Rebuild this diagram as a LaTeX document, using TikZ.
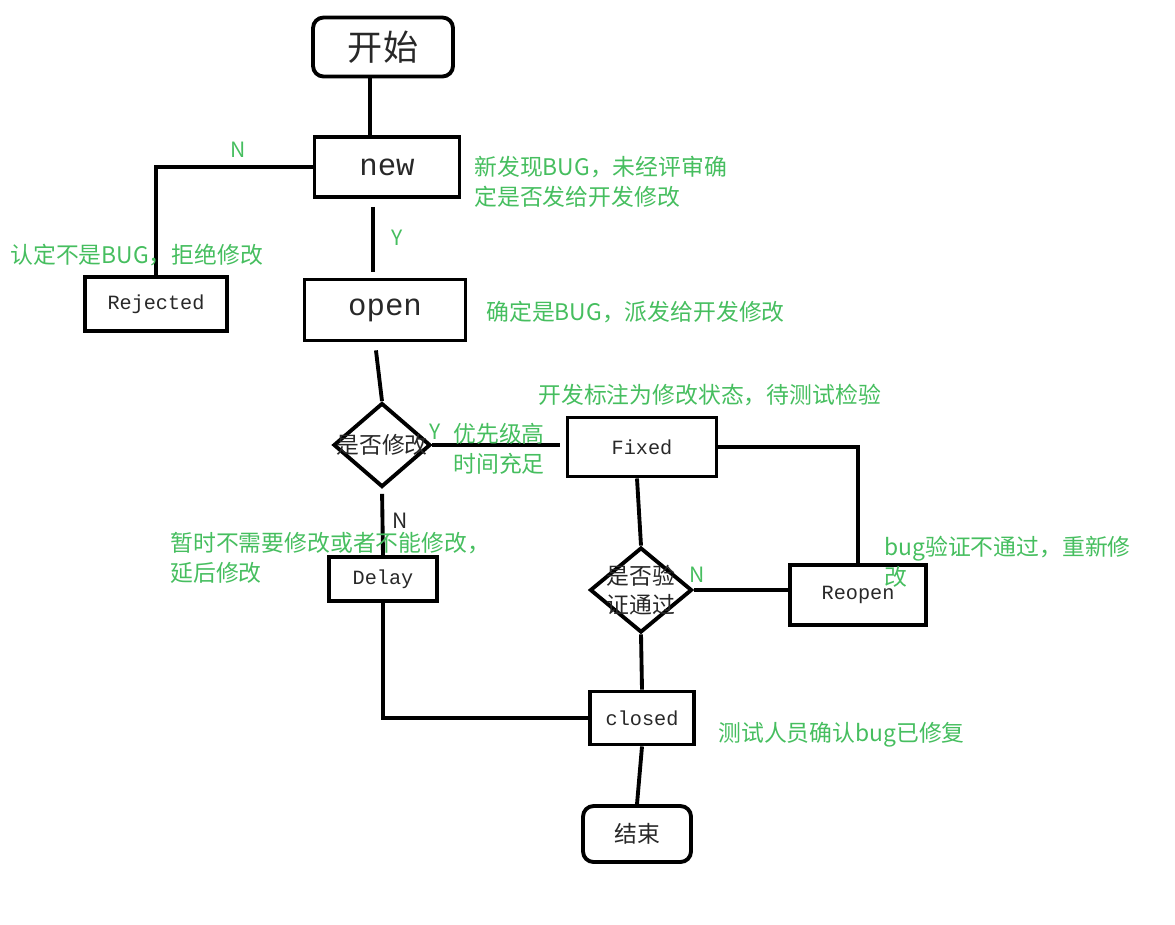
\documentclass[tikz,border=0pt]{standalone}
\usepackage{fontspec}
\setmainfont{Noto Sans CJK SC}
\newfontfamily\boxfont{Liberation Mono}
\usepackage{tikz}
\usetikzlibrary{shapes.geometric, positioning}
\definecolor{mygreen}{RGB}{70,190,95}
\definecolor{mytext}{RGB}{40,40,40}
\tikzset{
  box/.style={rectangle, draw=black, line width=2.2pt, text=mytext,
    inner sep=0pt, font=\boxfont\fontsize{11.5}{13}\selectfont},
  bigbox/.style={box, font=\boxfont\fontsize{17.5}{20}\selectfont},
  termbox/.style={box, rounded corners=6pt, font=\fontsize{13}{16}\selectfont},
  decision/.style={diamond, draw=black, line width=2.2pt, inner sep=0pt},
  qtext/.style={text=mytext, align=center, inner sep=0pt,
    font=\fontsize{13}{16.5}\selectfont},
  note/.style={text=mygreen, align=left, anchor=west, inner sep=0pt,
    font=\fontsize{13}{17}\selectfont},
  yn/.style={text=mygreen, inner sep=0pt, font=\fontsize{12}{14}\selectfont},
  line/.style={line width=2.2pt, color=black}
}

\begin{document}
\begin{tikzpicture}[x=0.02cm, y=-0.02cm]
  \useasboundingbox (0,0) rectangle (1175,924);

  % Start and end
  \node[termbox, minimum width=2.8cm, minimum height=1.18cm,
    font=\fontsize{20}{24}\selectfont] (start) at (383,47) {开始};
  \node[termbox, minimum width=2.16cm, minimum height=1.12cm] (end) at (637,834) {结束};

  % States
  \node[bigbox, minimum width=2.9cm, minimum height=1.2cm] (new) at (387,167) {new};
  \node[box, minimum width=2.84cm, minimum height=1.08cm] (rej) at (156,304) {Rejected};
  \node[bigbox, minimum width=3.22cm, minimum height=1.22cm] (open) at (385,310) {open};
  \node[box, minimum width=2.98cm, minimum height=1.18cm] (fixed) at (642,447) {Fixed};
  \node[box, minimum width=2.16cm, minimum height=0.88cm] (delay) at (383,579) {Delay};
  \node[box, minimum width=2.72cm, minimum height=1.2cm] (reopen) at (858,595) {Reopen};
  \node[box, minimum width=2.08cm, minimum height=1.06cm] (closed) at (642,718) {closed};

  % Decisions
  \node[decision, minimum width=1.94cm, minimum height=1.68cm] (q1) at (382,445) {};
  \node[qtext] (q1t) at (q1) {是否修改};
  \node[decision, minimum width=2.04cm, minimum height=1.7cm] (q2) at (641,590) {};
  \node[qtext] (q2t) at (q2) {是否验\\证通过};

  % Connectors
  \draw[line] ([xshift=-0.26cm]start.south) -- ([xshift=-0.26cm]start.south |- new.north);
  \draw[line] (new.west) -| (rej.north);
  \draw[line, shorten <=0.16cm, shorten >=0.12cm] ([xshift=-0.28cm]new.south)
    -- ([xshift=-0.28cm]new.south |- open.north);
  \draw[line, shorten <=0.16cm] ([xshift=-0.2cm]open.south) -- (q1.north);
  \draw[line, shorten >=0.12cm] (q1.east) -- (q1.east -| fixed.west);
  \draw[line, shorten <=0.1cm] (q1.south) -- (delay.north);
  \draw[line] (fixed.east) -| (reopen.north);
  \draw[line] ([xshift=-0.1cm]fixed.south) -- (q2.north);
  \draw[line] (q2.east) -- (q2.east -| reopen.west);
  \draw[line] (q2.south) -- (closed.north);
  \draw[line] (delay.south) |- (closed.west);
  \draw[line] (closed.south) -- (end.north);

  % Y / N marks
  \node[yn] (n1) at (238,150) {N};
  \node[yn] (y1) at (397,238) {Y};
  \node[yn] (y2) at (435,432) {Y};
  \node[yn, text=mytext] (n2) at (400,521) {N};
  \node[yn] (n3) at (697,575) {N};

  % Notes
  \node[note] (c1) at (10,255) {认定不是BUG，拒绝修改};
  \node[note] (c2) at (474,182) {新发现BUG，未经评审确\\定是否发给开发修改};
  \node[note] (c3) at (486,312) {确定是BUG，派发给开发修改};
  \node[note] (c4) at (538,395) {开发标注为修改状态，待测试检验};
  \node[note] (c5) at (453,449) {优先级高\\时间充足};
  \node[note] (c6) at (170,558) {暂时不需要修改或者不能修改，\\延后修改};
  \node[note] (c7) at (884,562) {bug验证不通过，重新修\\改};
  \node[note] (c8) at (718,735) {测试人员确认bug已修复};
\end{tikzpicture}
\end{document}
